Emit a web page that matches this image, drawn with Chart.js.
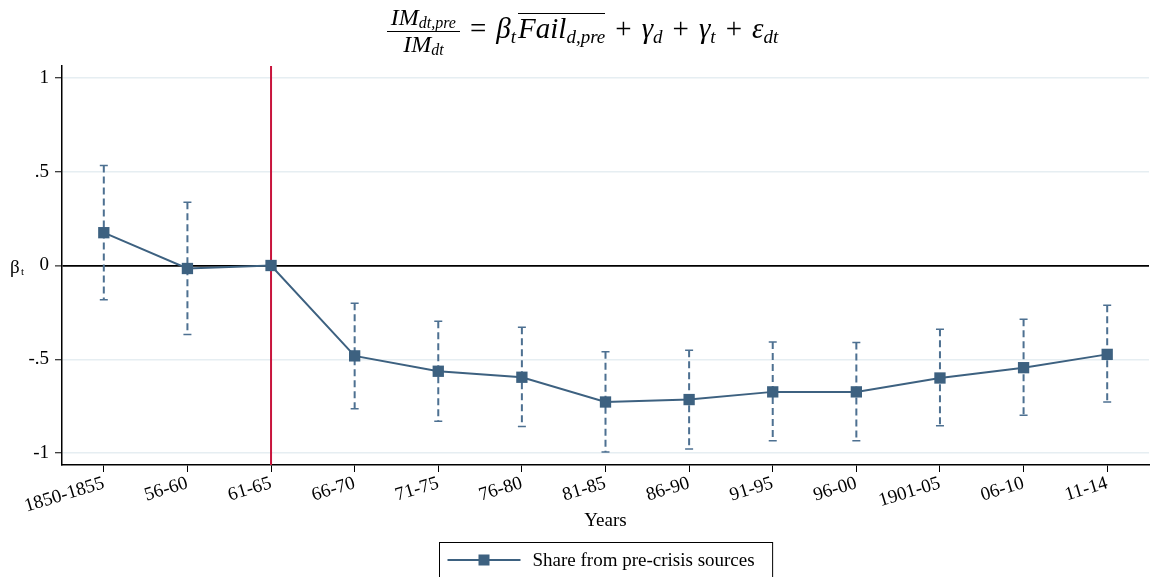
<!DOCTYPE html>
<html>
<head>
<meta charset="utf-8">
<script src="https://cdn.jsdelivr.net/npm/chart.js@4"></script>
<style>
    html, body { margin: 0; padding: 0; background: #fff; }
    #wrap { position: relative; width: 1157px; height: 577px; }
    #formula {
        position: absolute; top: 0px; left: 4px; width: 1157px; text-align: center;
        font-family: 'Liberation Serif', 'Times New Roman', serif; font-size: 29px; color: #000;
        white-space: nowrap; line-height: 56px;
    }
    #formula sub { font-size: 19px; vertical-align: -5px; line-height: 0; }
    .op { padding: 0 10px; font-style: normal; }
    .frac { display: inline-block; vertical-align: middle; text-align: center; font-size: 24px; line-height: 19px; }
    .frac sub { font-size: 16px !important; vertical-align: -3px !important; }
    .frac .num { display: block; border-bottom: 1px solid #000; padding: 0 4px 4px 4px; }
    .frac .den { display: block; padding-top: 3px; }
    .ovl { border-top: 1.5px solid #000; display: inline-block; line-height: 29px; margin-left: 2px; }
</style>
</head>
<body>
<div id="wrap">
    <canvas id="chart" width="1157" height="577"></canvas>
    <div id="formula"><span class="frac"><span class="num"><i>IM</i><sub><i>dt,pre</i></sub></span><span class="den"><i>IM</i><sub><i>dt</i></sub></span></span><span class="op">=</span><i>β</i><sub><i>t</i></sub><span class="ovl"><i>Fail</i><sub><i>d,pre</i></sub></span><span class="op">+</span><i>γ</i><sub><i>d</i></sub><span class="op">+</span><i>γ</i><sub><i>t</i></sub><span class="op">+</span><i>ε</i><sub><i>dt</i></sub></div>
</div>
<script>
const periods = ['1850-1855', '56-60', '61-65', '66-70', '71-75', '76-80', '81-85', '86-90', '91-95', '96-00', '1901-05', '06-10', '11-14'];
const beta = [0.175, -0.016, 0, -0.482, -0.564, -0.596, -0.728, -0.715, -0.674, -0.674, -0.600, -0.545, -0.474];
const ciLow = [-0.183, -0.368, null, -0.764, -0.830, -0.858, -0.995, -0.979, -0.934, -0.934, -0.854, -0.799, -0.728];
const ciHigh = [0.534, 0.338, null, -0.201, -0.297, -0.329, -0.460, -0.452, -0.408, -0.410, -0.340, -0.287, -0.212];
const yTicks = [-1, -0.5, 0, 0.5, 1];
const yTickLabels = ['-1', '-.5', '0', '.5', '1'];
const crisisIndex = 2;
const seriesLabel = 'Share from pre-crisis sources';

const serif = "'Liberation Serif', 'Times New Roman', serif";
const navy = '#3d6180';
const ciColor = '#4d7091';

Chart.defaults.font.family = serif;
Chart.defaults.color = '#000';

// red line at the crisis period, drawn under the series
const crisisLine = {
    id: 'crisisLine',
    beforeDatasetsDraw(chart) {
        const { ctx, chartArea, scales } = chart;
        const x = scales.x.getPixelForValue(crisisIndex);
        ctx.save();
        ctx.strokeStyle = '#c8143c';
        ctx.lineWidth = 2;
        ctx.beginPath();
        ctx.moveTo(x, chartArea.top);
        ctx.lineTo(x, chartArea.bottom);
        ctx.stroke();
        ctx.restore();
    }
};

// dashed confidence intervals with caps
const errorBars = {
    id: 'errorBars',
    beforeDatasetsDraw(chart) {
        const { ctx, scales } = chart;
        ctx.save();
        ctx.strokeStyle = ciColor;
        periods.forEach((p, i) => {
            if (ciLow[i] === null) return;
            const x = scales.x.getPixelForValue(i);
            const yl = scales.y.getPixelForValue(ciLow[i]);
            const yh = scales.y.getPixelForValue(ciHigh[i]);
            ctx.lineWidth = 2;
            ctx.setLineDash([7, 4]);
            ctx.beginPath();
            ctx.moveTo(x, yh);
            ctx.lineTo(x, yl);
            ctx.stroke();
            ctx.setLineDash([]);
            ctx.lineWidth = 1.5;
            ctx.beginPath();
            ctx.moveTo(x - 4, yh); ctx.lineTo(x + 4, yh);
            ctx.moveTo(x - 4, yl); ctx.lineTo(x + 4, yl);
            ctx.stroke();
        });
        ctx.restore();
    }
};

// horizontal y title and boxed legend
const extras = {
    id: 'extras',
    afterDraw(chart) {
        const { ctx, chartArea, scales } = chart;
        const y0 = scales.y.getPixelForValue(0);
        ctx.save();
        ctx.fillStyle = '#000';
        ctx.textBaseline = 'alphabetic';
        ctx.font = '19px ' + serif;
        ctx.fillText('β', 10, y0 + 7);
        ctx.font = '11px ' + serif;
        ctx.fillText('t', 21, y0 + 9);

        // legend box
        const cx = (chartArea.left + chartArea.right) / 2;
        ctx.font = '19px ' + serif;
        const tw = ctx.measureText(seriesLabel).width;
        const w = 8 + 73 + 12 + tw + 18;
        const left = Math.round(cx - w / 2) + 0.5;
        const top = 542.5;
        ctx.strokeStyle = '#000';
        ctx.lineWidth = 1;
        ctx.strokeRect(left, top, w, 60);
        const ly = 560;
        ctx.strokeStyle = navy;
        ctx.lineWidth = 2;
        ctx.beginPath();
        ctx.moveTo(left + 8, ly);
        ctx.lineTo(left + 81, ly);
        ctx.stroke();
        ctx.fillStyle = navy;
        ctx.fillRect(left + 44.5 - 5.5, ly - 5.5, 11, 11);
        ctx.fillStyle = '#000';
        ctx.textBaseline = 'middle';
        ctx.fillText(seriesLabel, left + 93, ly + 1);
        ctx.restore();
    }
};

const config = {
    type: 'line',
    data: {
        labels: periods,
        datasets: [{
            label: seriesLabel,
            data: beta,
            borderColor: navy,
            backgroundColor: navy,
            borderWidth: 2,
            pointStyle: 'rect',
            pointRadius: 8,
            pointHoverRadius: 8,
            pointBorderWidth: 0,
            tension: 0
        }]
    },
    options: {
        responsive: false,
        animation: false,
        layout: { padding: { top: 66, right: 6, bottom: 37, left: 0 } },
        plugins: {
            legend: { display: false },
            tooltip: { enabled: false }
        },
        scales: {
            x: {
                offset: true,
                grid: { drawOnChartArea: false, tickLength: 7, tickColor: '#000', tickWidth: 1 },
                border: { color: '#000', width: 1.5 },
                ticks: { minRotation: 17, maxRotation: 17, autoSkip: false, padding: 0, font: { size: 19 }, color: '#000' },
                title: { display: true, text: 'Years', font: { size: 19 }, color: '#000', padding: { top: 0, bottom: 8 } },
                afterFit(scale) { scale.height = 75; }
            },
            y: {
                min: -1.064,
                max: 1.064,
                afterBuildTicks(scale) { scale.ticks = yTicks.map(v => ({ value: v })); },
                grid: {
                    color: c => c.tick && c.tick.value === 0 ? '#000' : '#e6eef2',
                    lineWidth: c => c.tick && c.tick.value === 0 ? 1.8 : 1.5,
                    tickColor: '#000',
                    tickWidth: 1,
                    tickLength: 7
                },
                border: { color: '#000', width: 1.5 },
                ticks: {
                    padding: 6,
                    font: { size: 19 },
                    color: '#000',
                    callback: (v) => yTickLabels[yTicks.indexOf(v)]
                },
                afterFit(scale) { scale.width = 62; }
            }
        }
    },
    plugins: [crisisLine, errorBars, extras]
};

const chart = new Chart(document.getElementById('chart').getContext('2d'), config);
</script>
</body>
</html>
